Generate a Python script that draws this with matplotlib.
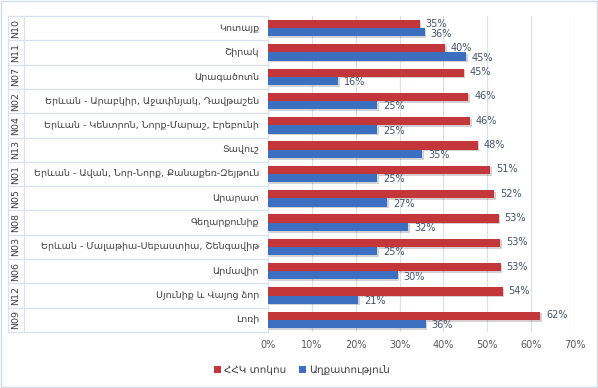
import matplotlib
matplotlib.use("Agg")
import matplotlib.pyplot as plt
import matplotlib.patheffects as pe
from matplotlib.transforms import blended_transform_factory
from matplotlib.patches import Rectangle
import numpy as np

plt.rcParams["font.family"] = ["DejaVu Sans"]

codes = ["N10", "N11", "N07", "N02", "N04", "N13", "N01", "N05", "N08", "N03", "N06", "N12", "N09"]
names = ["Կոտայք", "Շիրակ", "Արագածոտն",
         "Երևան - Արաբկիր, Աջափնյակ, Դավթաշեն",
         "Երևան - Կենտրոն, Նորք-Մարաշ, Էրեբունի",
         "Տավուշ",
         "Երևան - Ավան, Նոր-Նորք, Քանաքեռ-Զեյթուն",
         "Արարատ", "Գեղարքունիք",
         "Երևան - Մալաթիա-Սեբաստիա, Շենգավիթ",
         "Արմավիր", "Սյունիք և Վայոց ձոր", "Լոռի"]
hhk = [34.6, 40.4, 44.7, 45.7, 46.1, 47.9, 50.7, 51.6, 52.6, 53.0, 53.1, 53.5, 62.1]
poverty = [35.8, 45.2, 16.0, 24.9, 24.9, 35.2, 24.9, 27.2, 32.0, 24.9, 29.6, 20.6, 36.0]
ticks = [0, 10, 20, 30, 40, 50, 60, 70]

red = "#c3373a"
blue = "#3d6fc1"
lab_col = "#44546a"
line_col = "#d9e1ec"

fig = plt.figure(figsize=(5.98, 3.88), dpi=100)
ax = fig.add_axes([268/598, 1-332/388, 307/598, 316/388])

y = np.arange(len(names))
h = 0.34
shadow = [pe.SimplePatchShadow(offset=(1.0, -1.2), alpha=0.2), pe.Normal()]
rb = ax.barh(y - h/2, hhk, height=h, color=red, label="ՀՀԿ տոկոս", zorder=3)
bb = ax.barh(y + h/2, poverty, height=h, color=blue, label="Աղքատություն", zorder=3)
for p in list(rb) + list(bb):
    p.set_path_effects(shadow)

for i in range(len(names)):
    ax.text(hhk[i] + 1.3, y[i] - h/2 - 0.02, "%d%%" % round(hhk[i]), va="center", ha="left",
            fontsize=7, color=lab_col)
    ax.text(poverty[i] + 1.3, y[i] + h/2 + 0.05, "%d%%" % round(poverty[i]), va="center", ha="left",
            fontsize=7, color=lab_col)

ax.set_xlim(0, 70)
ax.set_ylim(len(names) - 0.5, -0.5)
ax.set_xticks(ticks)
ax.set_xticklabels(["%d%%" % t for t in ticks], fontsize=7, color="#595959")
ax.set_yticks([])
ax.tick_params(axis="x", length=0, pad=6)
for s in ax.spines.values():
    s.set_visible(False)
ax.grid(axis="x", color=line_col, linewidth=0.9, zorder=0)

# category table on the left
tr = blended_transform_factory(fig.transFigure, ax.transData)
x0, x1, x2 = 8/598, 24/598, 268/598
for b in np.arange(len(names) + 1) - 0.5:
    ax.plot([x0, x2], [b, b], transform=tr, color=line_col, lw=0.9, clip_on=False)
for xx in [x0, x1]:
    ax.plot([xx, xx], [-0.5, len(names) - 0.5], transform=tr, color=line_col, lw=0.9, clip_on=False)
for i in range(len(names)):
    ax.text(259/598, y[i], names[i], transform=tr, ha="right", va="center", fontsize=6.8, color="#404040")
    ax.text(16/598, y[i], codes[i], transform=tr, ha="center", va="center", rotation=90,
            fontsize=6.8, color="#404040")

leg = fig.legend(loc="center", bbox_to_anchor=(0.505, 1-370/388), ncol=2, frameon=False,
                 fontsize=7.5, handlelength=0.7, handleheight=0.7, handletextpad=0.3,
                 columnspacing=1.2)
for t in leg.get_texts():
    t.set_color("#404040")
for hnd in leg.legend_handles:
    hnd.set_path_effects([])

fig.patches.append(Rectangle((0.002, 0.003), 0.996, 0.994, transform=fig.transFigure,
                             fill=False, edgecolor="#d0dcea", lw=1))

fig.savefig("out.png", dpi=100)
